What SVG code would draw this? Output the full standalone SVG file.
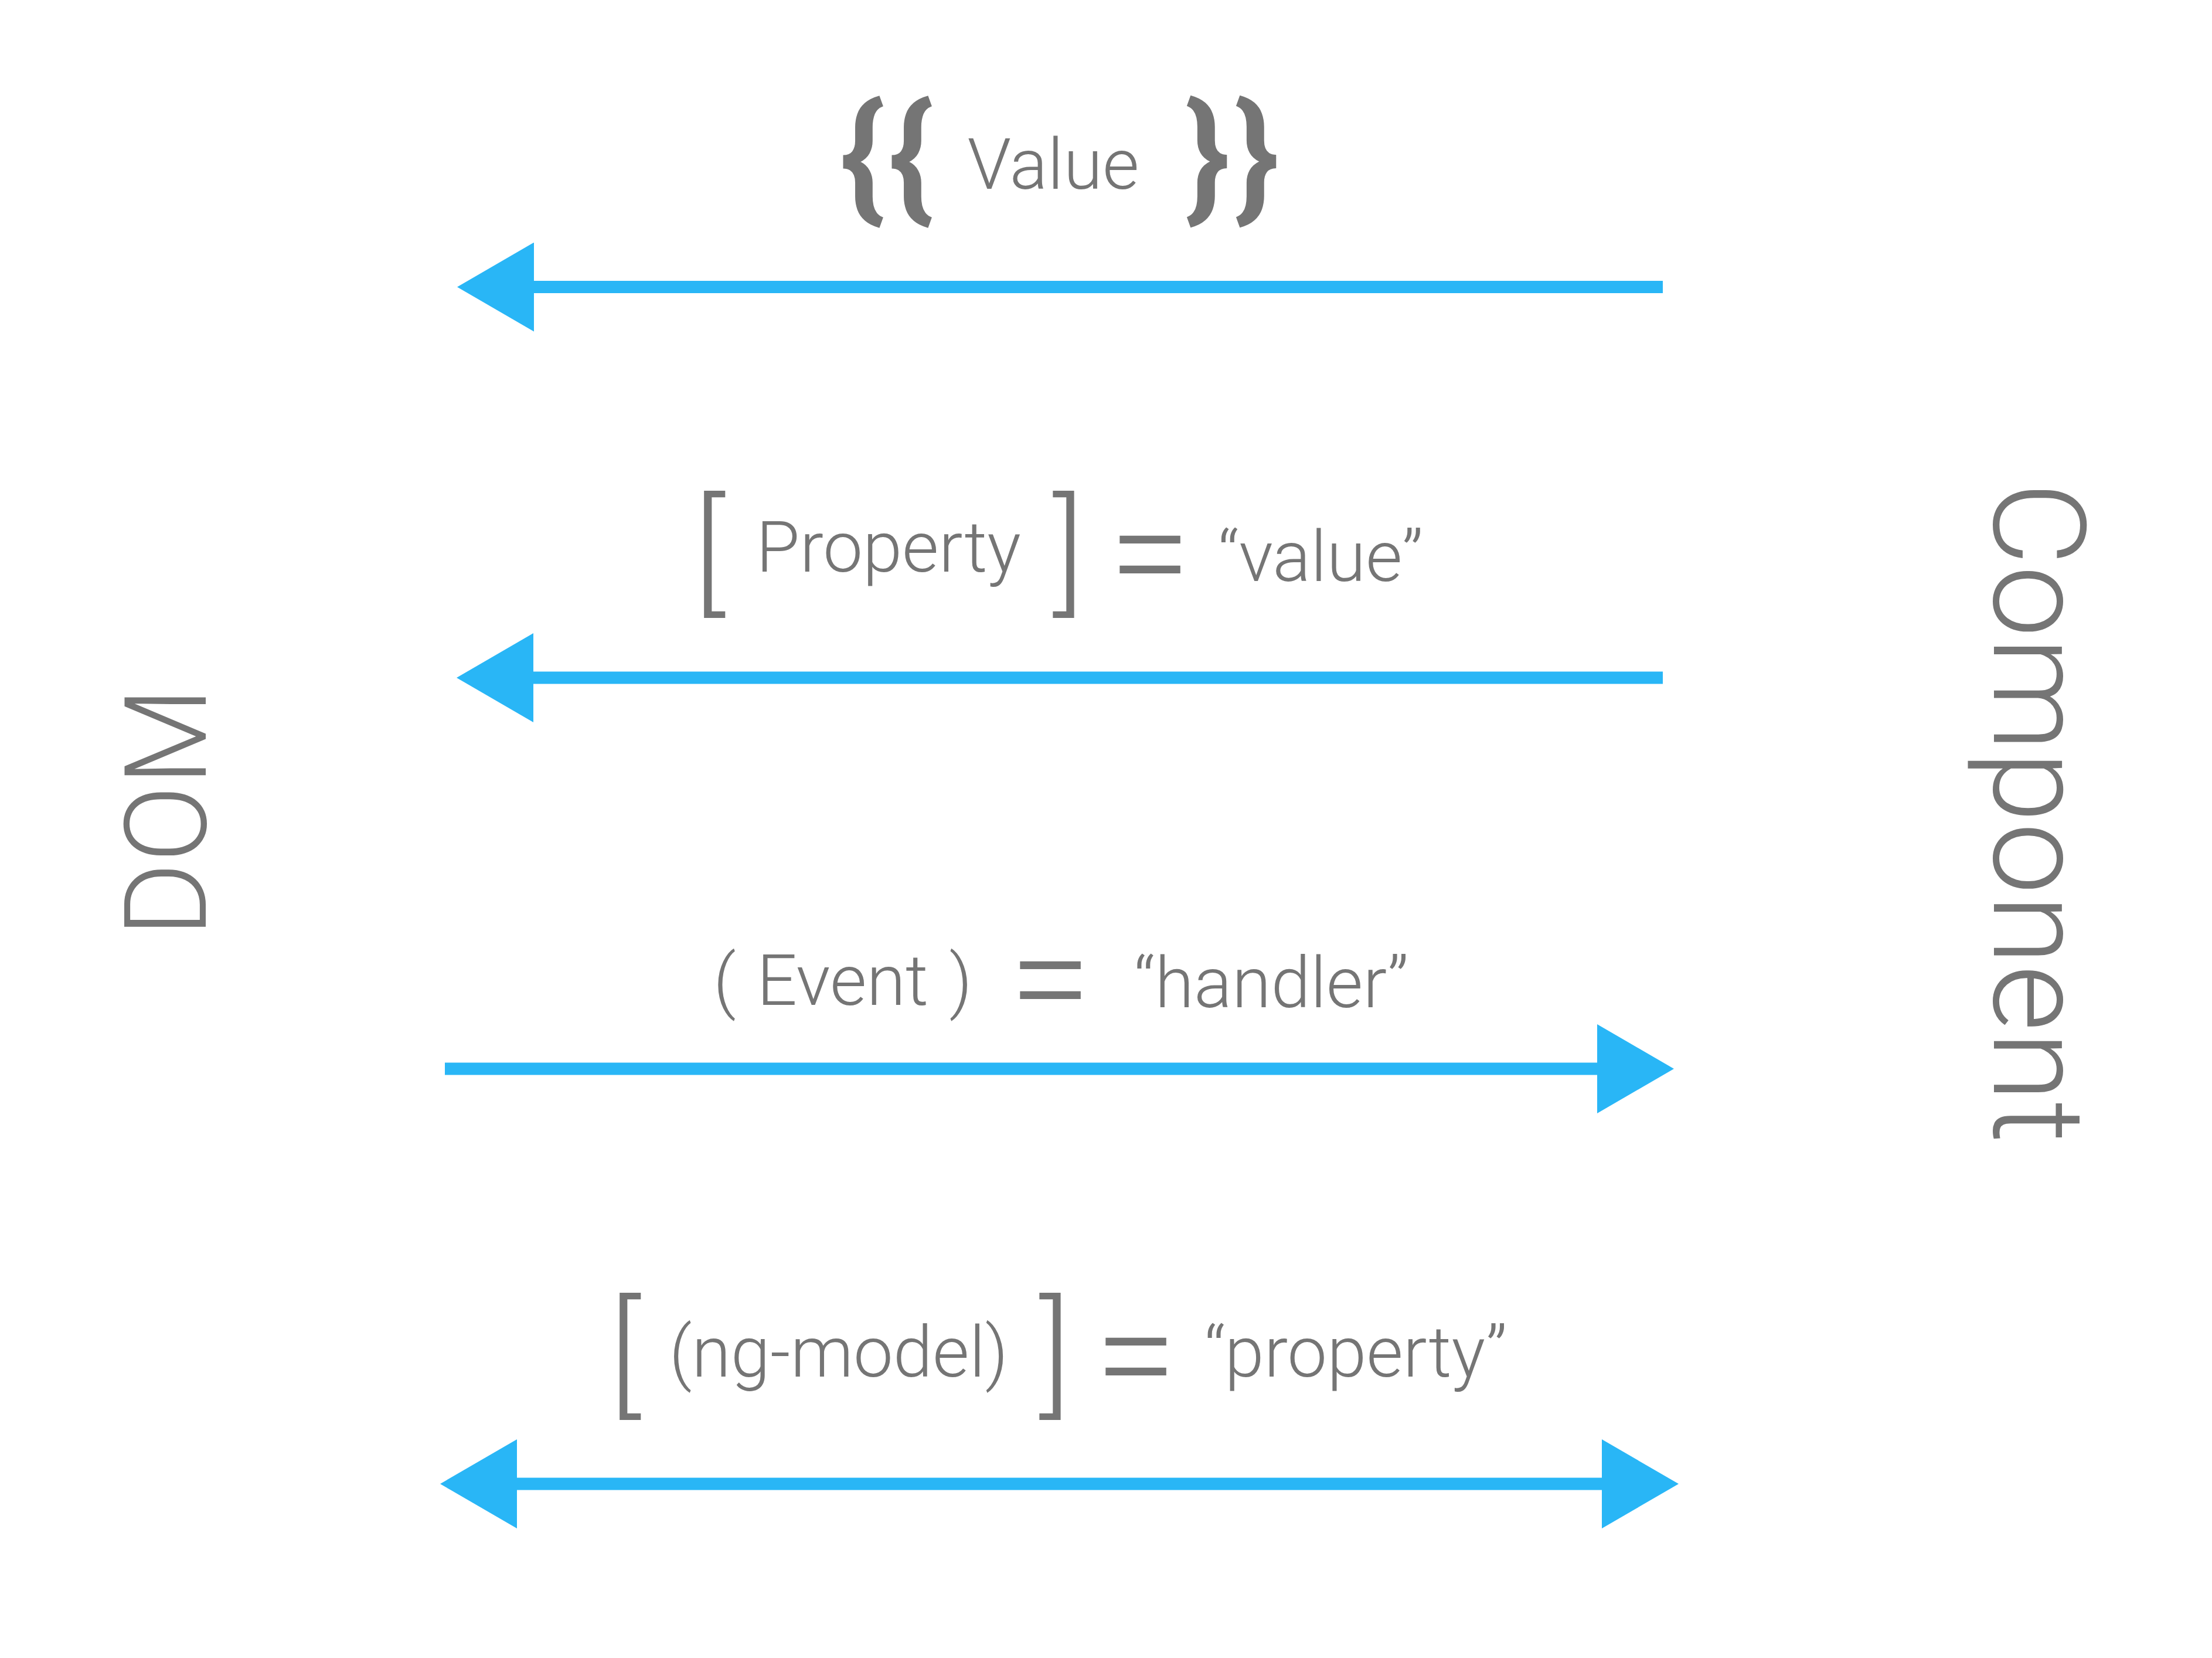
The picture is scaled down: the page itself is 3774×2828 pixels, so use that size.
<svg xmlns="http://www.w3.org/2000/svg" width="3774" height="2828" viewBox="0 0 3774 2828">
<style>
.t{font-family:Roboto,"Liberation Sans",sans-serif;font-weight:300;fill:#757575;text-anchor:middle}
.lbl{font-size:121px}
.sym{font-size:224px;font-weight:300}
.brace{font-size:236px;font-weight:700}
.eq{font-size:254px;font-weight:300}
.arr{stroke:#29B6F6;stroke-width:21;fill:none}
</style>
<defs>
<marker id="head" markerUnits="userSpaceOnUse" markerWidth="131" markerHeight="152" viewBox="0 0 131 152" refX="0" refY="76" orient="auto-start-reverse">
<path d="M0,0 L131,76 L0,152 Z" fill="#29B6F6"/>
</marker>
</defs>
<rect width="3774" height="2828" fill="#ffffff"/>
<g id="dom"><text class="t" style="font-size:194px" x="351" y="1385" transform="rotate(-90 351 1385)">DOM</text></g>
<g id="component"><text class="t" style="font-size:219px" x="3402" y="1386" transform="rotate(90 3402 1386)">Component</text></g>
<g id="interpolation">
<text class="t brace" x="1472" y="347">{</text>
<text class="t brace" x="1555" y="347">{</text>
<text class="t lbl" x="1797" y="322">Value</text>
<text class="t brace" x="2060" y="347">}</text>
<text class="t brace" x="2144" y="347">}</text>
</g>
<g id="property-binding">
<text class="t sym" x="1210" y="1020">[</text>
<text class="t lbl" x="1516" y="975">Property</text>
<text class="t sym" x="1823" y="1020">]</text>
<text class="t eq" x="1962" y="1030">=</text>
<text class="t lbl" x="2253" y="991">“value”</text>
</g>
<g id="event-binding">
<text class="t lbl" style="word-spacing:6px" x="1438" y="1714">( Event )</text>
<text class="t eq" x="1792" y="1756">=</text>
<text class="t lbl" x="2169" y="1718">“handler”</text>
</g>
<g id="two-way-binding">
<text class="t sym" x="1066" y="2388">[</text>
<text class="t lbl" x="1431" y="2348">(ng-model)</text>
<text class="t sym" x="1800" y="2388">]</text>
<text class="t eq" x="1938" y="2398">=</text>
<text class="t lbl" x="2313" y="2348">“property”</text>
</g>
<g id="connectors">
<line class="arr" x1="2837" y1="489.5" x2="911" y2="489.5" marker-end="url(#head)"/>
<line class="arr" x1="2837" y1="1156" x2="910" y2="1156" marker-end="url(#head)"/>
<line class="arr" x1="759" y1="1823" x2="2725" y2="1823" marker-end="url(#head)"/>
<line class="arr" x1="882" y1="2531" x2="2733" y2="2531" marker-start="url(#head)" marker-end="url(#head)"/>
</g>
</svg>
